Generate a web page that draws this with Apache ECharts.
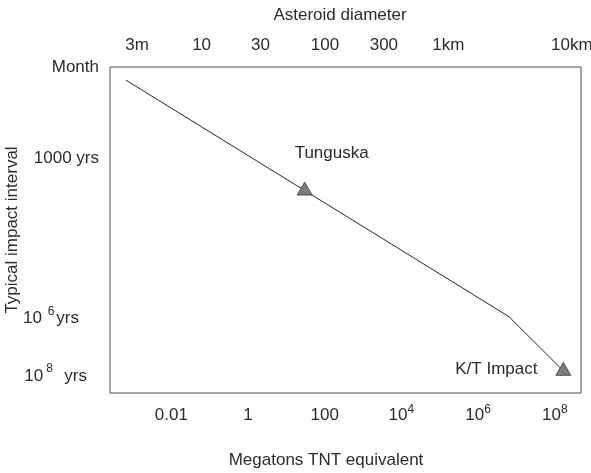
<!DOCTYPE html>
<html>
<head>
<meta charset="utf-8">
<script src="https://cdn.jsdelivr.net/npm/echarts@6/dist/echarts.min.js"></script>
<style>
html,body{margin:0;padding:0;background:#ffffff;}
#chart{width:591px;height:473px;}
</style>
</head>
<body>
<div id="chart"></div>
<script>
// ---- Bottom axis: energy, megatons TNT (log scale) ----
const energyTicks = [0.01, 1, 100, 1e4, 1e6, 1e8];
const energyTickLabels = ['0.01', '1', '100', '10^4', '10^6', '10^8'];

// ---- Top axis: asteroid diameter, metres (log scale) ----
const diameterTicks = [3, 10, 30, 100, 300, 1000, 10000];
const diameterTickLabels = ['3m', '10', '30', '100', '300', '1km', '10km'];

// ---- Left axis: schematic impact-interval scale (0 = top of axis, 100 = bottom) ----
const intervalTicks = [0, 28, 77.1, 94.8];
const intervalTickLabels = ['Month', '1000 yrs', '10^6 yrs', '10^8 yrs'];

// ---- Curve: energy (Mt) vs. interval position ----
const lineEnergy = [6.5e-4, 6.4e6, 1.67e8];
const lineInterval = [4.0, 76.6, 93.2];

// ---- Marked events ----
const eventNames = ['Tunguska', 'K/T Impact'];
const eventEnergy = [30, 1.67e8];
const eventInterval = [37.9, 93.2];

const FONT = "'Liberation Sans', Arial, Helvetica, sans-serif";
const TXT = '#2b2b2b';

function findIndex(ticks, v, isLog) {
  for (let i = 0; i < ticks.length; i++) {
    const a = isLog ? Math.log10(ticks[i]) : ticks[i];
    const b = isLog ? Math.log10(v) : v;
    if (Math.abs(a - b) < 1e-6) return i;
  }
  return -1;
}

function richPower(text, restKey) {
  const m = text.match(/^(\S+)\^(\d+)(.*)$/);
  if (!m) return '{n|' + text + '}';
  let s = '{n|' + m[1] + '}{sup|' + m[2] + '}';
  if (m[3]) s += '{' + restKey + '|' + m[3] + '}';
  return s;
}

const chart = echarts.init(document.getElementById('chart'), null, {renderer: 'canvas'});

const option = {
  animation: false,
  backgroundColor: '#ffffff',
  textStyle: {fontFamily: FONT},
  grid: {
    left: 110, right: 10, top: 67, bottom: 80,
    show: true, borderColor: '#4f4f4f', borderWidth: 1,
    backgroundColor: 'transparent',
    containLabel: false,
    outerBoundsMode: 'none'
  },
  xAxis: [
    {
      type: 'log', logBase: 10, position: 'bottom',
      min: 2.52e-4, max: 4.82e8,
      axisLine: {show: false}, axisTick: {show: false},
      splitLine: {show: false}, minorTick: {show: false}, minorSplitLine: {show: false},
      axisLabel: {
        customValues: energyTicks,
        interval: 0, margin: 11, hideOverlap: false,
        color: TXT, fontFamily: FONT, fontSize: 17,
        formatter: function (v) {
          const i = findIndex(energyTicks, v, true);
          if (i < 0) return '';
          return richPower(energyTickLabels[i], 'n');
        },
        rich: {
          n: {fontSize: 17, lineHeight: 22, color: TXT, fontFamily: FONT, verticalAlign: 'middle'},
          sup: {fontSize: 12, lineHeight: 12, color: TXT, fontFamily: FONT, verticalAlign: 'top'}
        }
      },
      name: 'Megatons TNT equivalent',
      nameLocation: 'middle', nameGap: 59, nameMoveOverlap: false,
      nameTextStyle: {color: TXT, fontFamily: FONT, fontSize: 17, padding: [0, 39, 0, 0]}
    },
    {
      type: 'log', logBase: 10, position: 'top',
      min: 1.81, max: 11874,
      axisLine: {show: false}, axisTick: {show: false},
      splitLine: {show: false}, minorTick: {show: false}, minorSplitLine: {show: false},
      axisLabel: {
        customValues: diameterTicks,
        interval: 0, margin: 13, hideOverlap: false,
        color: TXT, fontFamily: FONT, fontSize: 17,
        formatter: function (v) {
          const i = findIndex(diameterTicks, v, true);
          return i < 0 ? '' : diameterTickLabels[i];
        }
      },
      name: 'Asteroid diameter',
      nameLocation: 'middle', nameGap: 43, nameMoveOverlap: false,
      nameTextStyle: {color: TXT, fontFamily: FONT, fontSize: 17, padding: [0, 11, 0, 0]}
    }
  ],
  yAxis: {
    type: 'value', inverse: true, min: 0, max: 100,
    axisLine: {show: false}, axisTick: {show: false}, splitLine: {show: false},
    axisLabel: {
      customValues: intervalTicks,
      interval: 0, margin: 11, hideOverlap: false,
      color: TXT, fontFamily: FONT, fontSize: 17,
      formatter: function (v) {
        const i = findIndex(intervalTicks, v, false);
        if (i < 0) return '';
        const t = intervalTickLabels[i];
        if (t.indexOf('^') < 0) return '{n|' + t + '}';
        const m = t.match(/^(\S+)\^(\d+)\s*(.*)$/);
        if (i === 2) return '{n|' + m[1] + ' }{ysup|' + m[2] + '}{r6|' + m[3] + '}';
        return '{n|' + m[1] + '}{ysup8|' + m[2] + '}{r8|  ' + m[3] + '}';
      },
      rich: {
        n: {fontSize: 17, lineHeight: 26, color: TXT, fontFamily: FONT, verticalAlign: 'middle'},
        ysup: {fontSize: 12, lineHeight: 12, color: TXT, fontFamily: FONT, verticalAlign: 'top', padding: [0, 0, 0, 1]},
        ysup8: {fontSize: 12, lineHeight: 12, color: TXT, fontFamily: FONT, verticalAlign: 'top', padding: [0, 0, 0, 3]},
        r6: {fontSize: 17, lineHeight: 26, color: TXT, fontFamily: FONT, verticalAlign: 'middle', padding: [0, 20, 0, 2]},
        r8: {fontSize: 17, lineHeight: 26, color: TXT, fontFamily: FONT, verticalAlign: 'middle', padding: [0, 12, 0, 2]}
      }
    },
    name: 'Typical impact interval',
    nameLocation: 'middle', nameGap: 89, nameMoveOverlap: false,
    nameTextStyle: {color: TXT, fontFamily: FONT, fontSize: 17}
  },
  series: [
    {
      type: 'line',
      xAxisIndex: 0, yAxisIndex: 0,
      data: lineEnergy.map((e, i) => [e, lineInterval[i]]),
      symbol: 'none', silent: true,
      lineStyle: {color: '#262626', width: 1},
      z: 2
    },
    {
      type: 'scatter',
      xAxisIndex: 0, yAxisIndex: 0,
      data: eventNames.map((n, i) => ({
        name: n,
        value: [eventEnergy[i], eventInterval[i]],
        label: {offset: i === 0 ? [27, -35] : [-67, 0]}
      })),
      symbol: 'triangle', symbolSize: [15, 13], symbolOffset: [0, -2],
      itemStyle: {color: '#7d7d7d', borderColor: '#3c3c3c', borderWidth: 0.8, opacity: 1},
      label: {
        show: true, position: 'inside', formatter: '{b}',
        color: TXT, fontFamily: FONT, fontSize: 17
      },
      silent: true,
      z: 3
    }
  ]
};

chart.setOption(option);
</script>
</body>
</html>
